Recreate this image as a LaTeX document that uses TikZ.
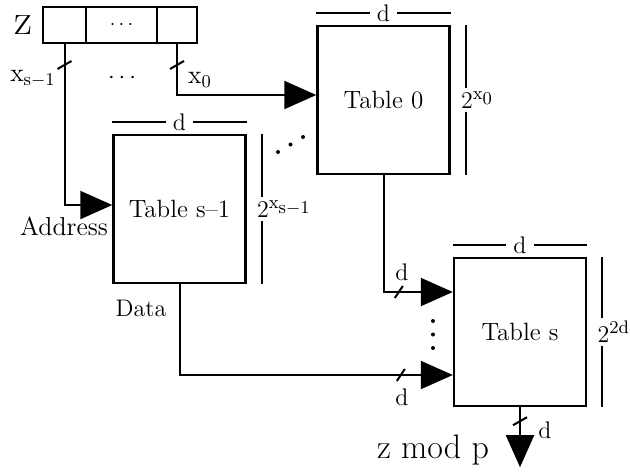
\documentclass[tikz,border=0pt]{standalone}
\usepackage{fontspec}
\usetikzlibrary{arrows.meta,positioning,calc}

\begin{document}
\begin{tikzpicture}[
  x=0.5pt, y=-0.5pt,
  tbl/.style={rectangle, draw, line width=1.2pt, minimum width=66pt,
              minimum height=74pt, inner sep=0pt,
              font=\fontsize{12.5}{14}\selectfont},
  cell/.style={rectangle, draw, line width=1.1pt, minimum height=18pt,
               inner sep=0pt, outer sep=0pt},
  wire/.style={line width=1pt},
  arr/.style={wire, -{Triangle[length=16pt, width=14pt]}},
  slash/.style={line width=1pt},
  dimline/.style={line width=1pt},
  dot/.style={circle, fill, inner sep=0pt, minimum size=2pt},
  lbl/.style={font=\fontsize{12}{14}\selectfont, inner sep=1pt},
  big/.style={font=\fontsize{17}{19}\selectfont, inner sep=1pt}
]
\useasboundingbox (0,0) rectangle (630,472);

% register z
\node[cell, minimum width=21.5pt]                  (cellL) at (64.5,25) {};
\node[cell, minimum width=35.5pt, right=0pt of cellL] (cellM) {$\cdots$};
\node[cell, minimum width=20pt,   right=0pt of cellM] (cellR) {};
\node[big, font=\fontsize{22}{24}\selectfont, left=4pt of cellL] (z) {z};

% tables
\node[tbl] (tab0) at (383.5,100) {Table 0};
\node[tbl] (tab1) at (179.5,209) {Table s--1};
\node[tbl] (tabS) at (520,332)   {Table s};

% wires
\coordinate (inA) at ($(tabS.west)+(0,-40)$);
\coordinate (inB) at ($(tabS.west)+(0,43)$);
\coordinate (out) at ($(tabS.south)+(0,60)$);
\draw[arr] (cellR.south) |- ([yshift=2.5pt]tab0.west);
\draw[arr] (cellL.south) |- ([yshift=2pt]tab1.west);
\draw[arr] (tab0.south) |- (inA);
\draw[arr] (tab1.south) |- (inB);
\draw[arr] (tabS.south) -- (out);

% bus slashes
\coordinate (tkL) at ($(cellL.south)+(0,22)$);
\coordinate (tkR) at ($(cellR.south)+(0,22)$);
\coordinate (tkO) at ($(tabS.south)+(0,14)$);
\coordinate (tkA) at ($(inA)+(-54,0)$);
\coordinate (tkB) at ($(inB)+(-52,0)$);
\foreach \t in {tkL,tkR,tkO}
  \draw[slash] ($(\t)+(-7,4)$) -- ($(\t)+(7,-4)$);
\foreach \t in {tkA,tkB}
  \draw[slash] ($(\t)+(-4,6)$) -- ($(\t)+(4,-6)$);

% labels
\node[lbl, font=\fontsize{13}{15}\selectfont] (xs) at (33,79) {$\mathrm{x}_{\mathrm{s}-1}$};
\node[lbl, font=\fontsize{13}{15}\selectfont] (x0) at (200,80) {$\mathrm{x}_0$};
\node[lbl] (dots) at (122,78)  {$\cdots$};
\node[lbl, font=\fontsize{13}{15}\selectfont] (addr) at (64,226) {Address};
\node[lbl] (data) at (141,308) {Data};
\node[lbl] (dA)   at (402,272) {d};
\node[lbl] (dB)   at (402,397) {d};
\node[lbl] (dO)   at (545,430) {d};
\node[big] (res)  at (433,450) {z mod p};

% dots between the tables
\foreach \i in {0,1,2} {
  \node[dot] (dd\i) at (278+12.5*\i, 152-7.5*\i) {};
  \node[dot] (vd\i) at (433, 321+13.5*\i) {};
}

% dimensions
\foreach \b/\e in {tab0/{$2^{\mathrm{x}_{\scriptstyle 0}}$},
                   tab1/{$2^{\mathrm{x}_{\scriptstyle\mathrm{s}-1}}$},
                   tabS/{$2^{2\mathrm{d}}$}} {
  \node[lbl, inner sep=3.5pt] (w\b) at ($(\b.north)+(0,-12)$) {d};
  \draw[dimline] (\b.north west |- w\b) -- (w\b.west);
  \draw[dimline] (w\b.east) -- (\b.north east |- w\b);
  \node[lbl, font=\fontsize{13}{15}\selectfont, anchor=west, inner sep=1.5pt]
    (h\b) at ($(\b.east)+(7,0)$) {\e};
  \coordinate (r\b) at ($(\b.north east)+(15,0)$);
  \draw[dimline] (r\b) -- (r\b |- h\b.north);
  \draw[dimline] (r\b |- h\b.south) -- (r\b |- \b.south east);
}
\end{tikzpicture}
\end{document}
